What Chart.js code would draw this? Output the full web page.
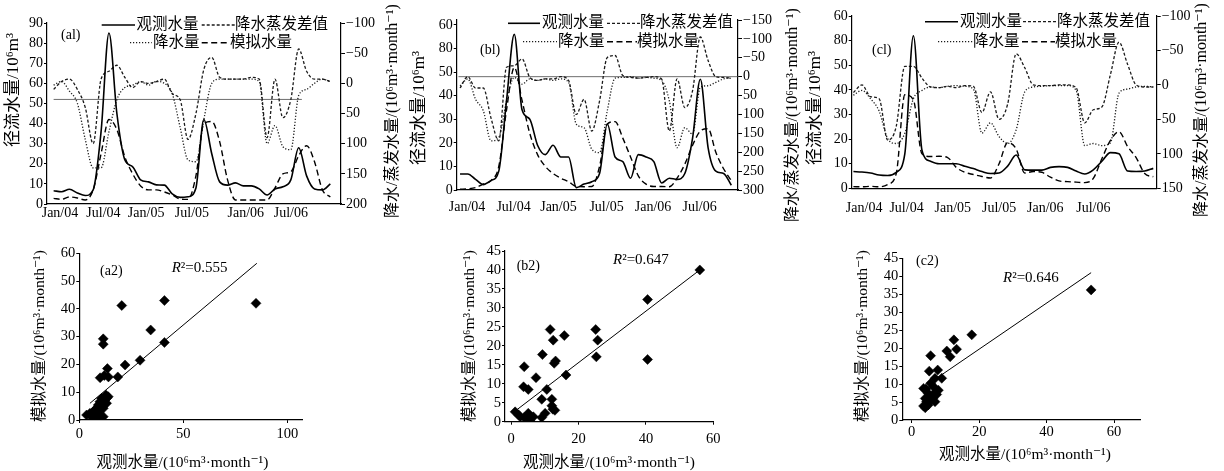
<!DOCTYPE html>
<html>
<head>
<meta charset="utf-8">
<script src="https://cdn.jsdelivr.net/npm/chart.js@4.4.1/dist/chart.umd.min.js"></script>
<style>
  html, body { margin: 0; padding: 0; background: #fff; }
  body { width: 1224px; height: 471px; position: relative; overflow: hidden; }
  canvas { position: absolute; }
</style>
</head>
<body>
<canvas id="a1"></canvas>
<canvas id="b1"></canvas>
<canvas id="c1"></canvas>
<canvas id="a2"></canvas>
<canvas id="b2"></canvas>
<canvas id="c2"></canvas>
<script>
// ---- categories: monthly series Jan/04 .. Dec/06 ----
const months = [
  "Jan/04","Feb/04","Mar/04","Apr/04","May/04","Jun/04","Jul/04","Aug/04","Sep/04","Oct/04","Nov/04","Dec/04",
  "Jan/05","Feb/05","Mar/05","Apr/05","May/05","Jun/05","Jul/05","Aug/05","Sep/05","Oct/05","Nov/05","Dec/05",
  "Jan/06","Feb/06","Mar/06","Apr/06","May/06","Jun/06","Jul/06","Aug/06","Sep/06","Oct/06","Nov/06","Dec/06"
];
const timeTickText = ["Jan/04", "Jul/04", "Jan/05", "Jul/05", "Jan/06", "Jul/06"];
// month index where each date label sits in each panel
const timeTickAtA = [0.8, 6.3, 11.7, 17.5, 24.3, 30];
const timeTickAtB = [0.9, 6.9, 12.7, 18.9, 24.9, 30.9];
const timeTickAtC = [1.25, 6.2, 11.6, 17, 22.4, 28];

// ---- (a1) ----
const obsA    = [6.6,6.1,7.3,5.5,4.2,7,36,85,45,22,18.5,12,11,9.5,9.4,5,3.3,3.6,8,42,25,11,9.4,10.5,9,9,7.5,4.5,7.5,8.6,12,28,14,7.5,7,10];
const simA    = [2.8,2.3,3.5,3,2,7,25,42,37,23.5,15,9,7,7,6,4.5,2.5,2.3,14,40,41,31,12,2,2,2,2,2,8,15,16,24,29,21,7,3.5];
const diffA   = [10,-3,-7,10,40,100,-7,-20,-30,-10,7,-3,0,-3,-7,17,27,93,50,-23,-43,-10,-7,-7,-7,-10,-7,90,-7,57,27,-57,-20,-7,-7,-3];
const precipA = [3,-3,13,33,93,140,140,80,27,7,3,-3,3,-3,0,17,73,127,130,60,0,-7,-7,-7,-7,-7,-3,100,70,105,110,20,10,0,-7,-3];
const refLineA = { axis: "yL", value: 52, from: 0, to: 31.4 };
const leftTicksA  = [0,10,20,30,40,50,60,70,80,90];
const leftTextA   = ["0","10","20","30","40","50","60","70","80","90"];
const rightTicksA = [-100,-50,0,50,100,150,200];

// ---- (b1) ----
const obsB    = [6.8,6.8,4.5,2.3,4,8,38,66,34,30,19,15,19,14,14,1,2.5,3.5,7,28,14,12,5,15,14,12,3,5,4.5,7,22,47,18,8,7,2];
const simB    = [0.3,0.5,1,2.5,4,10,34,52,38,24,15,10,7,5,3.5,1.5,1.4,1.5,10,28,29,22,14,6,2.5,1.5,1.5,1.4,5,11,19,25,26,16,9,4];
const diffB   = [30,0,30,30,110,170,-25,-29,-47,2,10,6,6,0,10,100,60,144,64,-51,-56,-3,2,4,2,0,6,144,6,82,37,-105,-43,0,2,4];
const precipB = [24,6,60,90,170,161,64,2,20,6,10,6,10,6,15,126,135,192,201,90,4,2,0,4,2,4,10,64,188,135,152,28,24,15,6,4];
const refLineB = { axis: "yR", value: 0, from: -0.2, to: 35.8 };
const leftTicksB  = [0,10,20,30,40,50,60,70];
const leftTextB   = ["0","10","20","30","40","50","80","60"];
const rightTicksB = [-150,-100,-50,0,50,100,150,200,250,300];

// ---- (c1) ----
const obsC    = [6.8,6.6,6.2,5.4,5.2,6.5,14,62,15.5,11,10,10,10,9,8,6.8,6,6.2,9,13.5,7.5,7.4,7.4,8.5,8.8,8.5,7,5.8,7.5,11,14.5,14,7,6.8,7,8.1];
const simC    = [0.7,0.6,0.8,0.6,1.5,6,38,36,14,12.9,13,12.5,8.5,6.5,5.6,4.8,4.2,10,18.5,16,6.2,6.8,6.5,4.5,3,2.7,2.5,2.3,4,12,19.5,23,17,12.5,6,4.7];
const diffC   = [11,0,17,20,80,60,-27,-27,-10,3,4,2,4,1,2,40,10,50,28,-45,-25,0,1,1,0,0,4,55,36,32,-15,-62,-30,0,3,3];
const precipC = [15,8,20,38,78,85,70,20,8,3,4,2,1,2,6,70,55,75,85,65,10,3,2,1,1,1,8,88,85,88,84,12,6,3,2,3];
const leftTicksC  = [0,10,20,30,40,50,60,70];
const leftTextC   = ["0","10","20","30","40","50","80","60"];
const rightTicksC = [-100,-50,0,50,100,150];

// ---- scatter: observed vs simulated ----
const obsA2 = [20.4,40.9,84.9,34.3,11.5,11.5,40.9,29.2,22,13.5,18.5,10,12,14,
               3.5,5.1,6.7,7.5,8.3,9.1,9.9,10.7,11.5,12.3,12.8,13.1,13.9,9.9,11.5,9.1,7.5,9.9,11.5,10.7,5.9,13.1];
const simA2 = [41.2,43,42,32.4,29.2,27.3,27.9,21.5,19.8,18.5,15.5,15.2,16,15.5,
               1.8,2.4,3,1.8,4.2,5.4,6.6,7.8,6.6,7.2,9,7.8,8.4,1.8,1.2,1.2,3.6,3.6,4.2,6,1.2,6];
const trendA2 = { x: [5.1, 85.3], y: [6, 56.4] };

const obsB2 = [56,40.5,40.5,25.1,25.7,25.3,11.6,12.5,15.8,9.3,12.8,13.2,16.3,3.9,7.4,3.7,5.1,10.6,9.1,12.1,12.1,12.4,9.1,10.1,1.2,2.7,3.9,5.1,5.6,2.2,6.6,13];
const simB2 = [40,32.2,16.4,24.3,21.5,17.1,24.3,21.5,22.7,17.7,15.4,16,12.3,14.5,11.6,9.2,8.5,8.5,5.9,5.9,4.2,3.3,1.1,2.2,2.6,1.3,1.1,2.2,0.4,1.8,1.3,3];
const trendB2 = { x: [1.2, 56], y: [2.8, 40] };

const obsC2 = [53.2,17.8,12.5,13.3,10.4,11.4,5.6,5.2,7.7,8.9,6.9,5.6,4.2,6.4,7.9,4.9,6.6,4,6.2,7.4,4.4,5.6,3.5,4,4.9,6.9,3.5];
const simC2 = [36.2,23.7,22.3,19.7,19.2,17.6,17.9,13.6,13.9,11.6,11.6,10.2,8.6,9.3,8.3,7.4,7.4,6,6,7.1,5.1,5.6,3.9,3.4,4.2,5.1,8.8];
const trendC2 = { x: [5, 53.2], y: [10.1, 41] };

const xTicksA2 = [0, 50, 100];
const xTicksBC2 = [0, 20, 40, 60];
const yTicksA2 = [0,10,20,30,40,50,60];
const yTicksBC2 = [0,5,10,15,20,25,30,35,40,45];

// ---- common ----
const SERIF = '"Liberation Serif", "DejaVu Serif", "Noto Sans CJK SC", serif';
const INK = "#000";
Chart.defaults.font.family = SERIF;
Chart.defaults.color = INK;

const titleFlow = "径流水量/10⁶m³";
const titlePE = "降水/蒸发水量/(10⁶m³·month⁻¹)";
const titleSim = "模拟水量/(10⁶m³·month⁻¹)";
const titleObs = "观测水量/(10⁶m³·month⁻¹)";

function place(cv, box) {
  cv.width = box[2];
  cv.height = box[3];
  cv.style.left = box[0] + "px";
  cv.style.top = box[1] + "px";
}

function fixedTicks(values) {
  return scale => { scale.ticks = values.map(v => ({ value: v })); };
}

// draws titles, panel tags and legends in page coordinates
const textLayer = {
  id: "textLayer",
  afterDraw(chart, args, opts) {
    const ctx = chart.ctx;
    const ox = opts.origin[0], oy = opts.origin[1];
    ctx.save();
    ctx.fillStyle = INK;
    ctx.textBaseline = "middle";
    (opts.items || []).forEach(it => {
      const x = it.x - ox, y = it.y - oy;
      if (it.legend !== undefined) {
        const ds = chart.data.datasets[it.legend];
        ctx.save();
        ctx.strokeStyle = ds.borderColor;
        ctx.lineWidth = ds.borderWidth;
        ctx.setLineDash(ds.borderDash || []);
        ctx.beginPath();
        ctx.moveTo(x, y);
        ctx.lineTo(it.x2 - ox, y);
        ctx.stroke();
        ctx.restore();
        ctx.font = "15.5px " + SERIF;
        ctx.textAlign = "left";
        ctx.fillText(ds.label, it.tx - ox, y);
        return;
      }
      ctx.save();
      ctx.translate(x, y);
      if (it.rot) ctx.rotate(-Math.PI / 2);
      if (it.parts) {
        ctx.textAlign = "left";
        let cx = 0;
        it.parts.forEach(p => {
          ctx.font = (p.italic ? "italic " : "") + it.size + "px " + SERIF;
          ctx.fillText(p.t, cx, 0);
          cx += ctx.measureText(p.t).width;
        });
      } else {
        ctx.font = it.size + "px " + SERIF;
        ctx.textAlign = it.align || "center";
        ctx.fillText(it.t, 0, 0);
      }
      ctx.restore();
    });
    ctx.restore();
  }
};

function series(vals) {
  return vals.map((v, i) => ({ x: i, y: v }));
}

function topChart(id, p) {
  const cv = document.getElementById(id);
  place(cv, p.box);
  const line = { pointRadius: 0, fill: false, cubicInterpolationMode: "monotone" };
  const datasets = [
    Object.assign({ label: "观测水量", data: series(p.obs), yAxisID: "yL", borderColor: "#000", borderWidth: 1.6, borderDash: [] }, line),
    Object.assign({ label: "降水蒸发差值", data: series(p.diff), yAxisID: "yR", borderColor: "#1a1a1a", borderWidth: 1.3, borderDash: [3, 2] }, line),
    Object.assign({ label: "降水量", data: series(p.precip), yAxisID: "yR", borderColor: "#1a1a1a", borderWidth: 1.3, borderDash: [1.2, 1.8] }, line),
    Object.assign({ label: "模拟水量", data: series(p.sim), yAxisID: "yL", borderColor: "#000", borderWidth: 1.4, borderDash: [6, 3.5] }, line)
  ];
  if (p.ref) {
    datasets.push({
      label: "ref", yAxisID: p.ref.axis, pointRadius: 0, borderColor: "#6e6e6e", borderWidth: 1,
      data: [{ x: p.ref.from, y: p.ref.value }, { x: p.ref.to, y: p.ref.value }]
    });
  }
  const tickFont = { size: 14, family: SERIF };
  return new Chart(cv, {
    type: "line",
    data: { datasets },
    plugins: [textLayer],
    options: {
      responsive: false,
      animation: false,
      events: [],
      devicePixelRatio: 1,
      layout: { padding: { top: p.padTop, left: 0, right: 0, bottom: 0 } },
      plugins: {
        legend: { display: false },
        tooltip: { enabled: false },
        textLayer: { origin: [p.box[0], p.box[1]], items: p.texts }
      },
      scales: {
        x: {
          type: "linear", min: p.xMin, max: p.xMax,
          afterFit: s => { s.height = p.bottomH; },
          afterBuildTicks: fixedTicks(p.tickAt),
          ticks: { font: tickFont, color: INK, padding: p.xPad, maxRotation: 0, autoSkip: false,
                   callback: (v, i) => timeTickText[i] },
          grid: { display: false, drawTicks: false },
          border: { display: true, color: INK, width: 1.2 }
        },
        yL: {
          type: "linear", position: "left", min: 0, max: p.yLMax,
          afterFit: s => { s.width = p.leftW; },
          afterBuildTicks: fixedTicks(p.leftTicks),
          ticks: { font: tickFont, color: INK, padding: 1, autoSkip: false, callback: (v, i) => p.leftText[i] },
          grid: { display: true, drawOnChartArea: false, drawTicks: true, tickLength: 3, color: INK },
          border: { display: true, color: INK, width: 1.2 }
        },
        yR: {
          type: "linear", position: "right", reverse: true, min: p.rightTicks[0], max: p.rightTicks[p.rightTicks.length - 1],
          afterFit: s => { s.width = p.rightW; },
          afterBuildTicks: fixedTicks(p.rightTicks),
          ticks: { font: tickFont, color: INK, padding: 1, autoSkip: false, callback: v => String(v).replace("-", "−") },
          grid: { display: true, drawOnChartArea: false, drawTicks: true, tickLength: 4, color: INK },
          border: { display: true, color: INK, width: 1.2 }
        }
      }
    }
  });
}

function scatterChart(id, p) {
  const cv = document.getElementById(id);
  place(cv, p.box);
  const tickFont = { size: 14.5, family: SERIF };
  return new Chart(cv, {
    type: "scatter",
    data: {
      datasets: [
        {
          label: "points", data: p.obs.map((v, i) => ({ x: v, y: p.sim[i] })),
          pointStyle: "rectRot", pointRadius: 5, backgroundColor: "#000", borderColor: "#000", borderWidth: 0.5
        },
        {
          label: "trend", showLine: true, pointRadius: 0, borderColor: "#000", borderWidth: 1,
          data: p.trend.x.map((v, i) => ({ x: v, y: p.trend.y[i] }))
        }
      ]
    },
    plugins: [textLayer],
    options: {
      responsive: false,
      animation: false,
      events: [],
      devicePixelRatio: 1,
      layout: { padding: { top: p.padTop, left: 0, right: p.padRight, bottom: 0 } },
      plugins: {
        legend: { display: false },
        tooltip: { enabled: false },
        textLayer: { origin: [p.box[0], p.box[1]], items: p.texts }
      },
      scales: {
        x: {
          type: "linear", min: p.xMin, max: p.xMax,
          afterFit: s => { s.height = p.bottomH; },
          afterBuildTicks: fixedTicks(p.xTicks),
          ticks: { font: tickFont, color: INK, padding: p.xPad, maxRotation: 0, autoSkip: false },
          grid: { display: true, drawOnChartArea: false, drawTicks: true, tickLength: 3, color: INK },
          border: { display: true, color: INK, width: 1.2 }
        },
        y: {
          type: "linear", min: 0, max: p.yTicks[p.yTicks.length - 1],
          afterFit: s => { s.width = p.leftW; },
          afterBuildTicks: fixedTicks(p.yTicks),
          ticks: { font: tickFont, color: INK, padding: 1, autoSkip: false },
          grid: { display: true, drawOnChartArea: false, drawTicks: true, tickLength: 3, color: INK },
          border: { display: true, color: INK, width: 1.2 }
        }
      }
    }
  });
}

function legendItems(row1y, row2y, xs) {
  return [
    { legend: 0, x: xs[0], x2: xs[1], tx: xs[2], y: row1y },
    { legend: 1, x: xs[3], x2: xs[4], tx: xs[4], y: row1y },
    { legend: 2, x: xs[5], x2: xs[6], tx: xs[7], y: row2y },
    { legend: 3, x: xs[8], x2: xs[9], tx: xs[9], y: row2y }
  ];
}

topChart("a1", {
  box: [0, 0, 420, 235], padTop: 23, leftW: 47, rightW: 79, bottomH: 31, xPad: 1,
  xMin: -0.84, xMax: 36.35, tickAt: timeTickAtA,
  obs: obsA, sim: simA, diff: diffA, precip: precipA, ref: refLineA,
  yLMax: 90, leftTicks: leftTicksA, leftText: leftTextA, rightTicks: rightTicksA,
  texts: [
    { t: titleFlow, x: 13.5, y: 90, rot: true, size: 17 },
    { t: titlePE, x: 393, y: 111, rot: true, size: 16 },
    { t: "(al)", x: 61, y: 35, align: "left", size: 14 }
  ].concat(legendItems(25, 42.7, [101.7, 135, 136.5, 201.7, 235, 130, 151.7, 153, 201.7, 230]))
});

topChart("b1", {
  box: [400, 0, 420, 235], padTop: 20, leftW: 56.7, rightW: 82, bottomH: 45, xPad: 9,
  xMin: -0.43, xMax: 35.86, tickAt: timeTickAtB,
  obs: obsB, sim: simB, diff: diffB, precip: precipB, ref: refLineB,
  yLMax: 72.1, leftTicks: leftTicksB, leftText: leftTextB, rightTicks: rightTicksB,
  texts: [
    { t: titleFlow, x: 420, y: 108, rot: true, size: 17 },
    { t: titlePE, x: 793, y: 115, rot: true, size: 16 },
    { t: "(bl)", x: 480, y: 50, align: "left", size: 14 }
  ].concat(legendItems(23.3, 41.7, [508, 540, 542, 607, 640, 523, 557, 558, 607, 637]))
});

topChart("c1", {
  box: [800, 0, 424, 235], padTop: 16, leftW: 51.7, rightW: 67.3, bottomH: 46.7, xPad: 12,
  xMin: -0.2, xMax: 35.4, tickAt: timeTickAtC,
  obs: obsC, sim: simC, diff: diffC, precip: precipC, ref: null,
  yLMax: 70, leftTicks: leftTicksC, leftText: leftTextC, rightTicks: rightTicksC,
  texts: [
    { t: titleFlow, x: 816, y: 108, rot: true, size: 17 },
    { t: titlePE, x: 1202, y: 110, rot: true, size: 16 },
    { t: "(cl)", x: 872, y: 50, align: "left", size: 14 }
  ].concat(legendItems(21.7, 41.7, [925, 958, 960, 1023, 1057, 938, 973, 973, 1022, 1055]))
});

scatterChart("a2", {
  box: [0, 230, 420, 241], padTop: 23.3, padRight: 118, leftW: 79.3, bottomH: 51, xPad: 2,
  xMin: 0, xMax: 107, xTicks: xTicksA2, yTicks: yTicksA2,
  obs: obsA2, sim: simA2, trend: trendA2,
  texts: [
    { t: titleSim, x: 40, y: 336, rot: true, size: 15.5 },
    { t: titleObs, x: 182.5, y: 463, size: 15.5 },
    { t: "(a2)", x: 100, y: 271.7, align: "left", size: 14 },
    { parts: [{ t: "R", italic: true }, { t: "²=0.555" }], x: 171.7, y: 268.3, size: 15 }
  ]
});

scatterChart("b2", {
  box: [400, 230, 420, 241], padTop: 21, padRight: 106.7, leftW: 105, bottomH: 49.3, xPad: 6,
  xMin: -1.8, xMax: 60, xTicks: xTicksBC2, yTicks: yTicksBC2,
  obs: obsB2, sim: simB2, trend: trendB2,
  texts: [
    { t: titleSim, x: 470, y: 336, rot: true, size: 15.5 },
    { t: titleObs, x: 609, y: 462.7, size: 15.5 },
    { t: "(b2)", x: 516.7, y: 266.7, align: "left", size: 14 },
    { parts: [{ t: "R", italic: true }, { t: "²=0.647" }], x: 613, y: 260, size: 15 }
  ]
});

scatterChart("c2", {
  box: [800, 230, 424, 241], padTop: 28.3, padRight: 84, leftW: 102.3, bottomH: 51, xPad: 0,
  xMin: -2.8, xMax: 67.7, xTicks: xTicksBC2, yTicks: yTicksBC2,
  obs: obsC2, sim: simC2, trend: trendC2,
  texts: [
    { t: titleSim, x: 863, y: 336, rot: true, size: 15.5 },
    { t: titleObs, x: 1025, y: 455, size: 15.5 },
    { t: "(c2)", x: 916, y: 261, align: "left", size: 14 },
    { parts: [{ t: "R", italic: true }, { t: "²=0.646" }], x: 1003, y: 278.3, size: 15 }
  ]
});
</script>
</body>
</html>
